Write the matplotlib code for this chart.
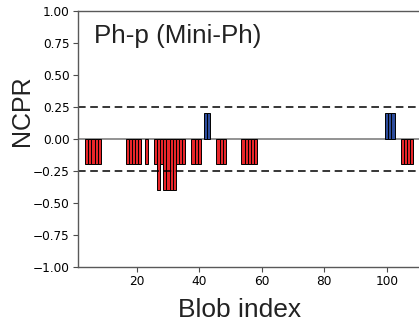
import numpy as np
import matplotlib
matplotlib.use("Agg")
import matplotlib.pyplot as plt

# blob indices and their NCPR values
neg_blobs = [4, 5, 6, 7, 8, 17, 18, 19, 20, 21, 23,
             26, 27, 28, 29, 30, 31, 32, 33, 34, 35,
             38, 39, 40, 46, 47, 48, 54, 55, 56, 57, 58,
             105, 106, 107, 108]
neg_ncpr = [-0.2, -0.2, -0.2, -0.2, -0.2, -0.2, -0.2, -0.2, -0.2, -0.2, -0.2,
            -0.2, -0.4, -0.2, -0.4, -0.4, -0.4, -0.4, -0.2, -0.2, -0.2,
            -0.2, -0.2, -0.2, -0.2, -0.2, -0.2, -0.2, -0.2, -0.2, -0.2, -0.2,
            -0.2, -0.2, -0.2, -0.2]
pos_blobs = [42, 43, 100, 101, 102]
pos_ncpr = [0.2, 0.2, 0.2, 0.2, 0.2]

yticks = [-1.0, -0.75, -0.5, -0.25, 0.0, 0.25, 0.5, 0.75, 1.0]
xticks = [20, 40, 60, 80, 100]
title = "Ph-p (Mini-Ph)"

fig = plt.figure(figsize=(4.19, 3.25), dpi=100)
# axes runs past the right edge of the image, like the original crop
ax = fig.add_axes([78 / 419, 58.5 / 325, 355.6 / 419, 255.5 / 325])

ax.bar(neg_blobs, neg_ncpr, width=1.0, color="#e8262a", edgecolor="black", linewidth=0.7)
ax.bar(pos_blobs, pos_ncpr, width=1.0, color="#2d4c9c", edgecolor="black", linewidth=0.7)

ax.axhline(0, color="0.5", linewidth=1.2, zorder=0)
ax.axhline(0.25, color="black", linestyle=(0, (5, 3)), linewidth=1.1)
ax.axhline(-0.25, color="black", linestyle=(0, (5, 3)), linewidth=1.1)

ax.set_xlim(1.2, 115)
ax.set_ylim(-1, 1)
ax.set_xticks(xticks)
ax.set_yticks(yticks)
ax.set_yticklabels(["{:.2f}".format(v).replace("-", "\u2212") for v in yticks])
ax.tick_params(labelsize=8.7, length=3.5, width=0.8, color="0.3", pad=2.5)
ax.spines["right"].set_visible(False)
for s in ["left", "top", "bottom"]:
    ax.spines[s].set_color("0.35")
    ax.spines[s].set_linewidth(1.0)

fig.text(94 / 419, 1 - 43.5 / 325, title, fontsize=18.7, family="Liberation Sans",
         color="#222222", va="baseline", ha="left")
fig.text(240 / 419, 1 - 317 / 325, "Blob index", fontsize=19, family="Liberation Sans",
         color="#222222", va="baseline", ha="center")
fig.text(22 / 419, 1 - 111 / 325, "NCPR", fontsize=18, family="Liberation Sans",
         color="#222222", rotation=90, va="center", ha="center")

fig.savefig("out.png", dpi=100)
